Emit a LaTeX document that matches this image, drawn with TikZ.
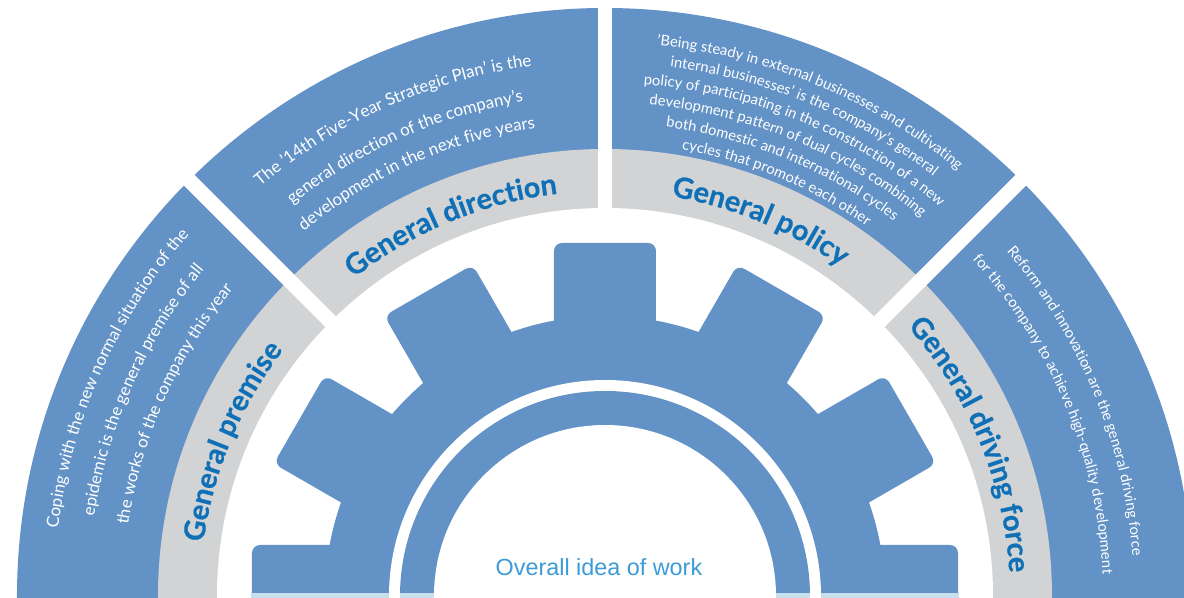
\documentclass[tikz,border=0pt]{standalone}
\usepackage{fontspec}
\setmainfont{Lato}
\newfontfamily\ideafont{Liberation Sans}
\newfontfamily\heavyfont{Lato}[BoldFeatures={FakeBold=0.6}]
\usetikzlibrary{decorations.text}
\definecolor{bandblue}{RGB}{99,146,198}
\definecolor{bandgray}{RGB}{209,211,212}
\definecolor{titleblue}{RGB}{16,112,183}
\definecolor{ideablue}{RGB}{60,155,216}
\definecolor{stripblue}{RGB}{200,224,238}
\newcommand{\bodyfont}{\fontsize{9.6}{11}\selectfont}
\newcommand{\smallbodyfont}{\fontsize{8.4}{10}\selectfont}
\newcommand{\titlefont}{\heavyfont\fontsize{16.5}{18}\selectfont\bfseries}
\tikzset{
  bodytext/.style={decorate, decoration={text along path, text align=center, text color=white, text={|\bodyfont|#1}}},
  smalltext/.style={decorate, decoration={text along path, text align=center, text color=white, text={|\smallbodyfont|#1}}},
  titletext/.style={decorate, decoration={text along path, text align=center, text color=titleblue, text={|\titlefont|#1}}},
  gap/.style={white, line width=8.5pt},
  geartooth/.style={fill=bandblue, rounded corners=4.5pt}
}

\begin{document}
\begin{tikzpicture}[x=0.02cm, y=0.02cm]
  \useasboundingbox (-605,-2) rectangle (579,596);

  % bands
  \fill[bandblue] (0,0) circle[radius=588];
  \fill[bandgray] (0,0) circle[radius=447];
  \fill[white] (0,0) circle[radius=388];
  \foreach \a in {45,90,135}
    \draw[gap] (\a:380) -- (\a:600);

  % gear
  \fill[bandblue] (0,0) circle[radius=280];
  \foreach \a in {0,30,...,180}
    \path[geartooth, rotate=\a] (0,-51) rectangle (353,51);
  \fill[white] (0,0) circle[radius=216];
  \fill[bandblue] (0,0) circle[radius=205];
  \fill[white] (0,0) circle[radius=171];
  \fill[white] (-360,-2) rectangle (360,3);
  \foreach \s in {1,-1} {
    \fill[stripblue] (\s*216,-2) rectangle (\s*354,3);
    \fill[stripblue] (\s*171,-2) rectangle (\s*205,3);
  }

  \node[font=\ideafont\fontsize{13.3}{15}\selectfont, text=ideablue] (idea) at (-6,28.5) {Overall idea of work};

  % general premise
  \path[bodytext={Coping with the new normal situation of the}] (186:551) arc[start angle=186, end angle=126, radius=551];
  \path[bodytext={epidemic is the general premise of all}] (186:517) arc[start angle=186, end angle=126, radius=517];
  \path[bodytext={the works of the company this year}] (186:482) arc[start angle=186, end angle=126, radius=482];
  \path[titletext={General premise}] (187.5:405) arc[start angle=187.5, end angle=127.5, radius=405];

  % general direction
  \path[bodytext={The '14th Five-Year Strategic Plan' is the}] (144:535) arc[start angle=144, end angle=84, radius=535];
  \path[bodytext={general direction of the company's}] (144:501) arc[start angle=144, end angle=84, radius=501];
  \path[bodytext={development in the next five years}] (144:473) arc[start angle=144, end angle=84, radius=473];
  \path[titletext={General direction}] (142.5:405) arc[start angle=142.5, end angle=82.5, radius=405];

  % general policy
  \path[smalltext={'Being steady in external businesses and cultivating}] (97.5:553) arc[start angle=97.5, end angle=37.5, radius=553];
  \path[smalltext={internal businesses' is the company's general}] (97.5:533) arc[start angle=97.5, end angle=37.5, radius=533];
  \path[smalltext={policy of participating in the construction of a new}] (97.5:513) arc[start angle=97.5, end angle=37.5, radius=513];
  \path[smalltext={development pattern of dual cycles combining}] (97.5:493) arc[start angle=97.5, end angle=37.5, radius=493];
  \path[smalltext={both domestic and international cycles}] (97.5:473) arc[start angle=97.5, end angle=37.5, radius=473];
  \path[smalltext={cycles that promote each other}] (97.5:453) arc[start angle=97.5, end angle=37.5, radius=453];
  \path[titletext={General policy}] (97.5:405) arc[start angle=97.5, end angle=37.5, radius=405];

  % general driving force
  \path[smalltext={Reform and innovation are the general driving force}] (52.5:529) arc[start angle=52.5, end angle=-7.5, radius=529];
  \path[smalltext={for the company to achieve high-quality development}] (52.5:498) arc[start angle=52.5, end angle=-7.5, radius=498];
  \path[titletext={General driving force}] (52.5:405) arc[start angle=52.5, end angle=-7.5, radius=405];
\end{tikzpicture}
\end{document}
